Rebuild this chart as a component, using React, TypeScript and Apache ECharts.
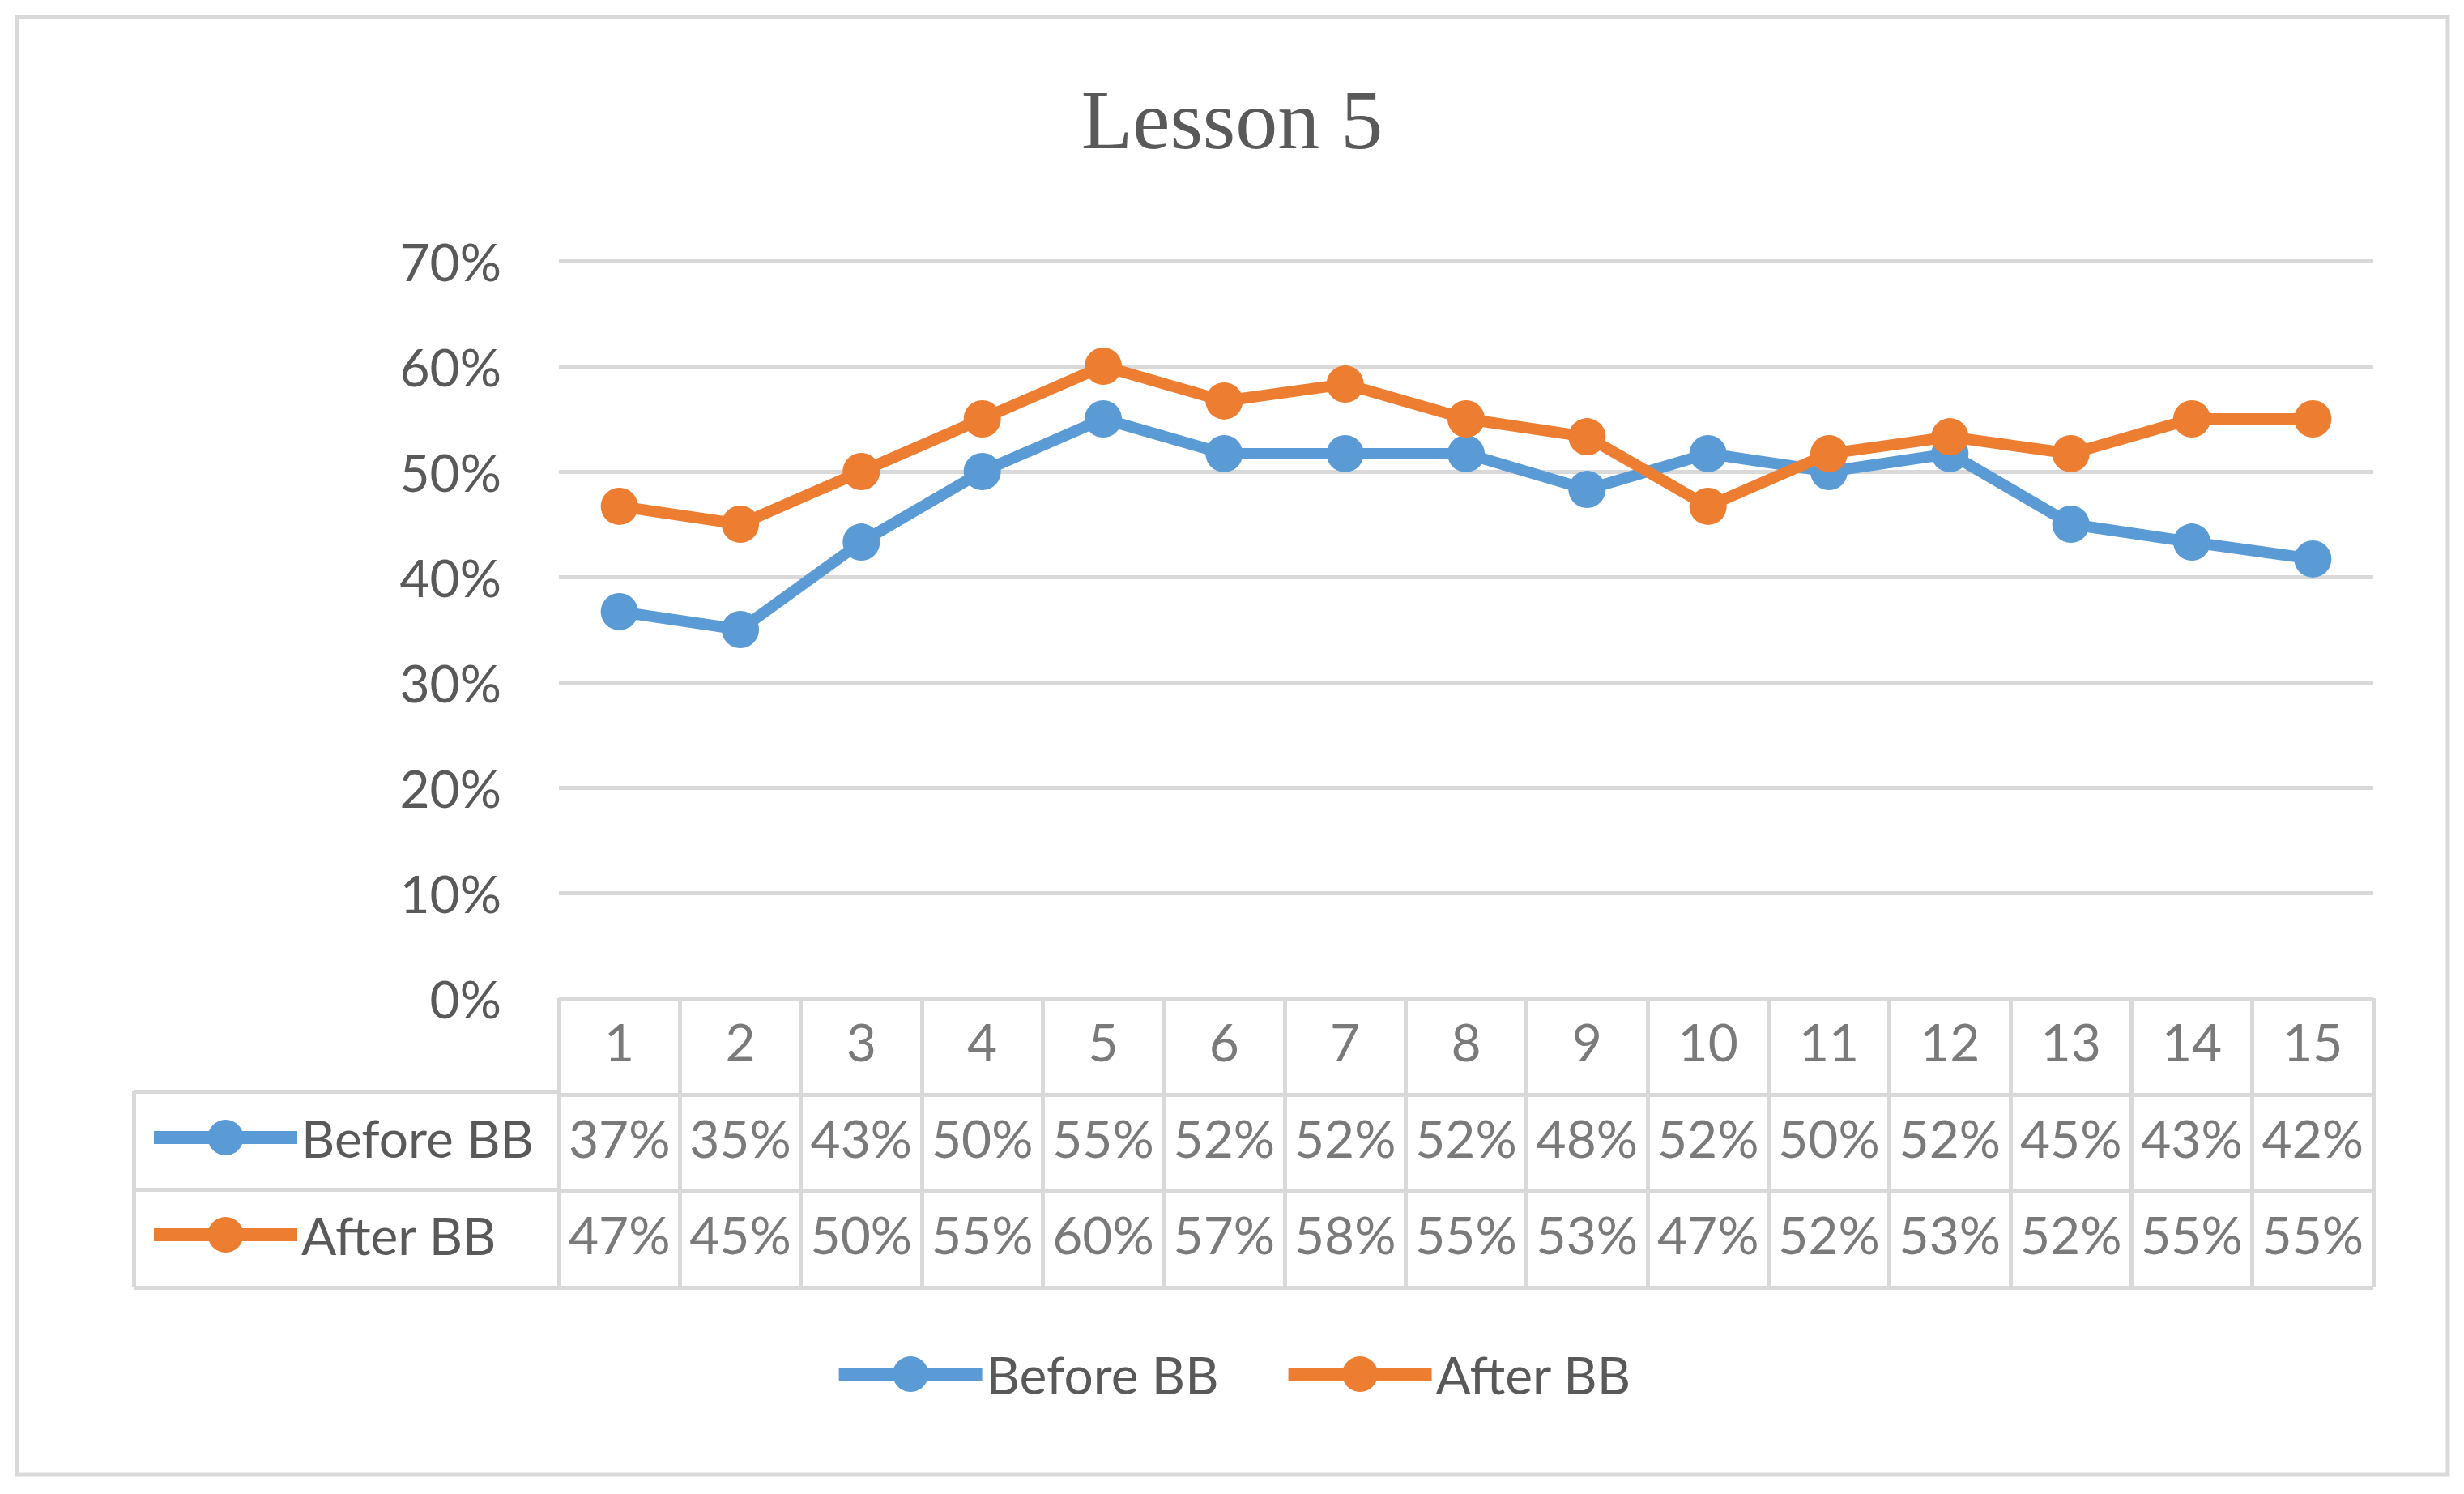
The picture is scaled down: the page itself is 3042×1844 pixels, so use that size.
import React, { useEffect, useRef } from "react";
import * as echarts from "echarts";

const categories = ["1", "2", "3", "4", "5", "6", "7", "8", "9", "10", "11", "12", "13", "14", "15"];
const beforeBB = [36.7, 35, 43.3, 50, 55, 51.7, 51.7, 51.7, 48.3, 51.7, 50, 51.7, 45, 43.3, 41.7];
const afterBB = [46.7, 45, 50, 55, 60, 56.7, 58.3, 55, 53.3, 46.7, 51.7, 53.3, 51.7, 55, 55];
const seriesNames = ["Before BB", "After BB"];
const tableRows = ["head", "before", "after"];
const yMin = 0;
const yMax = 70;
const yInterval = 10;

const TEXT = "#595959";
const GRID = "#d9d9d9";
const BLUE = "#5b9bd5";
const ORANGE = "#ed7d31";
const FONT = "Lato";

export default function App() {
  const ref = useRef<HTMLDivElement>(null);

  useEffect(() => {
    if (!ref.current) return;
    const chart = echarts.init(ref.current, undefined, { renderer: "svg" });
    const pct = (v: number) => `${Math.round(v)}%`;
    const tableData: any[] = [];
    categories.forEach((c, i) => {
      tableData.push([c, "head", c]);
      tableData.push([c, "before", pct(beforeBB[i])]);
      tableData.push([c, "after", pct(afterBB[i])]);
    });
    const legendText = { fontSize: 64, fontFamily: FONT, color: TEXT };
    const hiddenAxis = {
      axisLine: { show: false },
      axisTick: { show: false },
      axisLabel: { show: false },
    };
    const tableLine = { show: true, interval: 0, lineStyle: { color: GRID, width: 5 } };

    chart.setOption({
      animation: false,
      backgroundColor: "#ffffff",
      title: {
        text: "Lesson 5",
        left: "center",
        top: 90,
        textStyle: { fontFamily: "Liberation Serif", fontSize: 104, fontWeight: "normal", color: TEXT },
      },
      graphic: [
        {
          type: "rect",
          shape: { x: 21, y: 21, width: 3001, height: 1799 },
          style: { fill: "none", stroke: GRID, lineWidth: 5 },
          silent: true,
        },
      ],
      legend: [
        {
          data: ["Before BB"],
          left: 182,
          top: 1372,
          padding: 0,
          itemWidth: 177,
          itemHeight: 55,
          lineStyle: { width: 16 },
          textStyle: legendText,
          selectedMode: false,
        },
        {
          data: ["After BB"],
          left: 182,
          top: 1492,
          padding: 0,
          itemWidth: 177,
          itemHeight: 55,
          lineStyle: { width: 16 },
          textStyle: legendText,
          selectedMode: false,
        },
        {
          data: seriesNames,
          left: "center",
          top: 1664,
          padding: 0,
          itemGap: 78,
          itemWidth: 177,
          itemHeight: 55,
          lineStyle: { width: 16 },
          textStyle: legendText,
          selectedMode: false,
        },
      ],
      grid: [
        { left: 690, right: 112, top: 322, height: 910 },
        { left: 690, right: 112, top: 1232, height: 357 },
        { left: 165, width: 525, top: 1347, height: 242 },
      ],
      xAxis: [
        { type: "category", gridIndex: 0, data: categories, boundaryGap: true, ...hiddenAxis, splitLine: { show: false } },
        { type: "category", gridIndex: 1, data: categories, boundaryGap: true, ...hiddenAxis, splitLine: tableLine },
        { type: "category", gridIndex: 2, data: ["name"], boundaryGap: true, ...hiddenAxis, splitLine: tableLine },
      ],
      yAxis: [
        {
          type: "value",
          gridIndex: 0,
          min: yMin,
          max: yMax,
          interval: yInterval,
          axisLine: { show: false },
          axisTick: { show: false },
          axisLabel: {
            formatter: "{value}%",
            fontSize: 64,
            fontFamily: FONT,
            color: TEXT,
            margin: 71,
            padding: [0, 0, 6, 0],
          },
          splitLine: { show: true, lineStyle: { color: GRID, width: 5 } },
        },
        { type: "category", gridIndex: 1, data: tableRows, inverse: true, boundaryGap: true, ...hiddenAxis, splitLine: tableLine },
        { type: "category", gridIndex: 2, data: ["before", "after"], inverse: true, boundaryGap: true, ...hiddenAxis, splitLine: tableLine },
      ],
      series: [
        {
          name: "Before BB",
          type: "line",
          xAxisIndex: 0,
          yAxisIndex: 0,
          data: beforeBB,
          symbol: "circle",
          symbolSize: 46,
          lineStyle: { color: BLUE, width: 14 },
          itemStyle: { color: BLUE },
          z: 3,
        },
        {
          name: "After BB",
          type: "line",
          xAxisIndex: 0,
          yAxisIndex: 0,
          data: afterBB,
          symbol: "circle",
          symbolSize: 46,
          lineStyle: { color: ORANGE, width: 14 },
          itemStyle: { color: ORANGE },
          z: 4,
        },
        {
          name: "table",
          type: "scatter",
          xAxisIndex: 1,
          yAxisIndex: 1,
          data: tableData,
          symbolSize: 1,
          itemStyle: { color: "transparent" },
          label: {
            show: true,
            position: "inside",
            offset: [0, -6],
            formatter: (p: any) => p.value[2],
            fontSize: 64,
            fontFamily: FONT,
            color: TEXT,
          },
          silent: true,
        },
      ],
    });
    return () => chart.dispose();
  }, []);

  return (
    <div
      ref={ref}
      style={{ position: "absolute", left: 0, top: 0, width: 3042, height: 1844, background: "#fff" }}
    />
  );
}
